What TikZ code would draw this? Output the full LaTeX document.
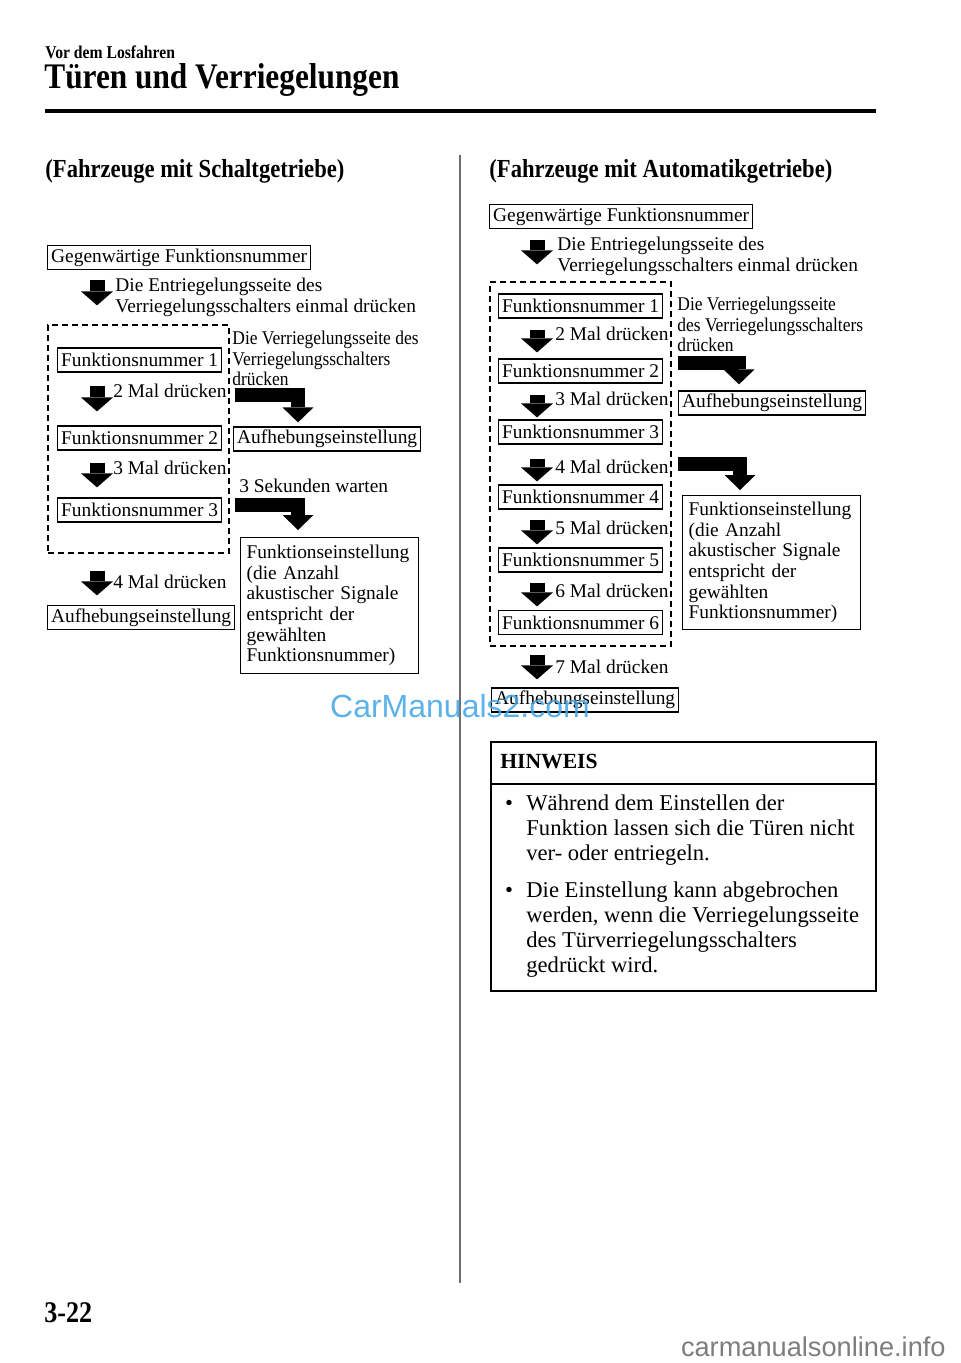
\documentclass[tikz,border=0pt]{standalone}
\usepackage{fontspec}
\setmainfont{Liberation Serif}
\newfontfamily\headfont[FakeStretch=0.87]{Liberation Serif}
\newfontfamily\narrowfont[FakeStretch=0.9]{Liberation Serif}
\newfontfamily\wmfont{Liberation Sans}
\usetikzlibrary{arrows.meta,calc}
\usepackage{xcolor}
\definecolor{wmblue}{RGB}{64,164,228}
\definecolor{wmgrey}{RGB}{125,125,125}
\definecolor{divgrey}{RGB}{110,110,110}
\newcommand{\diagfont}{\fontsize{9.7}{10.3}\selectfont}
\newcommand{\slimfont}{\narrowfont\fontsize{9.7}{10.3}\selectfont}
\newcommand{\notefont}{\fontsize{11.3}{12.5}\selectfont}

\begin{document}
\begin{tikzpicture}[x=0.5pt, y=-0.5pt,
  box/.style={draw, line width=0.6pt, minimum height=12pt, inner xsep=1.8pt, inner ysep=0pt, anchor=west, font=\diagfont},
  lbl/.style={anchor=west, inner sep=0pt, align=left, font=\diagfont},
  slbl/.style={anchor=west, inner sep=0pt, align=left, font=\slimfont},
  frame/.style={draw, dash pattern=on 3pt off 2pt, line width=0.6pt, inner sep=0pt},
  resbox/.style={draw, line width=0.6pt, anchor=north west, align=left, font=\diagfont, text width=83pt, inner xsep=3pt},
  dnarrow/.style={line width=7.5pt, -{Triangle[width=16pt,length=7pt,line width=0pt]}},
  bentarrow/.style={line width=7pt, line join=miter, -{Triangle[width=15.5pt,length=7.5pt,line width=0pt]}},
  head/.style={anchor=west, inner sep=0pt, font=\headfont\bfseries},
]
  \useasboundingbox (0,0) rectangle (960,1363);

  % page head
  \node[head, font=\headfont\bfseries\fontsize{9}{10}\selectfont] (section) at (45,52) {Vor dem Losfahren};
  \node[head, font=\headfont\bfseries\fontsize{18}{20}\selectfont] (title) at (44,80) {Türen und Verriegelungen};
  \draw[line width=2pt] (45,111) -- (876,111);
  \draw[divgrey, line width=0.7pt] (460,155) -- (460,1283);
  \node[head, font=\headfont\bfseries\fontsize{13}{15}\selectfont] (headL) at (45,171) {(Fahrzeuge mit Schaltgetriebe)};
  \node[head, font=\headfont\bfseries\fontsize{13}{15}\selectfont] (headR) at (489,171) {(Fahrzeuge mit Automatikgetriebe)};

  % manual gearbox
  \coordinate (axL) at (97,0);
  \node[box] (gL) at (47,257.5) {Gegenwärtige Funktionsnummer};
  \node[lbl] (openL) at (115,297.5) {Die Entriegelungsseite des\\Verriegelungsschalters einmal drücken};
  \node[frame, minimum width=90.5pt, minimum height=114pt] (frameL) at (138.5,439) {};
  \node[box] (f1L) at (57,360) {Funktionsnummer 1};
  \node[box] (f2L) at (57,438) {Funktionsnummer 2};
  \node[box] (f3L) at (57,510) {Funktionsnummer 3};
  \node[lbl] (p2L) at (113,391) {2 Mal drücken};
  \node[lbl] (p3L) at (113,468) {3 Mal drücken};
  \node[lbl] (p4L) at (113,582) {4 Mal drücken};
  \node[box] (offL) at (47,617.5) {Aufhebungseinstellung};
  \node[slbl] (lockL) at (232,358.5) {Die Verriegelungsseite des\\Verriegelungsschalters\\drücken};
  \node[box] (cancelL) at (233,439) {Aufhebungseinstellung};
  \node[lbl] (waitL) at (239,486) {3 Sekunden warten};
  \node[resbox, minimum height=68pt] (setL) at (240,537) {Funktionseinstellung\\(die Anzahl\\akustischer Signale\\entspricht der\\gewählten\\Funktionsnummer)};

  \draw[dnarrow, shorten <=4.75pt, shorten >=9.5pt] (gL.south -| axL) -- (frameL.north -| axL);
  \draw[dnarrow, shorten <=6.5pt, shorten >=7pt] (f1L.south -| axL) -- (f2L.north -| axL);
  \draw[dnarrow, shorten <=6pt, shorten >=5pt] (f2L.south -| axL) -- (f3L.north -| axL);
  \draw[dnarrow, shorten <=8.5pt, shorten >=4.75pt] (frameL.south -| axL) -- (offL.north -| axL);
  \coordinate (k1) at (298,395);
  \coordinate (k2) at (298,504.5);
  \draw[bentarrow, shorten <=2.5pt, shorten >=2pt] (frameL.east |- k1) -| (cancelL.north -| k1);
  \draw[bentarrow, shorten <=2.5pt, shorten >=3.5pt] (frameL.east |- k2) -| (setL.north -| k2);

  % automatic gearbox
  \coordinate (axR) at (537,0);
  \node[box] (gR) at (489,216.5) {Gegenwärtige Funktionsnummer};
  \node[lbl] (openR) at (557,256.5) {Die Entriegelungsseite des\\Verriegelungsschalters einmal drücken};
  \node[frame, minimum width=90.5pt, minimum height=182pt] (frameR) at (580.5,464) {};
  \node[box] (f1R) at (498,306) {Funktionsnummer 1};
  \node[box] (f2R) at (498,371) {Funktionsnummer 2};
  \node[box] (f3R) at (498,432) {Funktionsnummer 3};
  \node[box] (f4R) at (498,497) {Funktionsnummer 4};
  \node[box] (f5R) at (498,560) {Funktionsnummer 5};
  \node[box] (f6R) at (498,622.5) {Funktionsnummer 6};
  \node[lbl] (p2R) at (555,334) {2 Mal drücken};
  \node[lbl] (p3R) at (555,399) {3 Mal drücken};
  \node[lbl] (p4R) at (555,467) {4 Mal drücken};
  \node[lbl] (p5R) at (555,528) {5 Mal drücken};
  \node[lbl] (p6R) at (555,591) {6 Mal drücken};
  \node[lbl] (p7R) at (555,667) {7 Mal drücken};
  \node[box] (offR) at (491,700) {Aufhebungseinstellung};
  \node[slbl] (lockR) at (677,324.5) {Die Verriegelungsseite\\des Verriegelungsschalters\\drücken};
  \node[box] (cancelR) at (678,403) {Aufhebungseinstellung};
  \node[resbox, minimum height=64.5pt] (setR) at (682,495) {Funktionseinstellung\\(die Anzahl\\akustischer Signale\\entspricht der\\gewählten\\Funktionsnummer)};

  \draw[dnarrow, shorten <=5.25pt, shorten >=8.5pt] (gR.south -| axR) -- (frameR.north -| axR);
  \draw[dnarrow, shorten <=5.5pt, shorten >=3pt] (f1R.south -| axR) -- (f2R.north -| axR);
  \draw[dnarrow, shorten <=5.5pt, shorten >=1pt] (f2R.south -| axR) -- (f3R.north -| axR);
  \draw[dnarrow, shorten <=7pt, shorten >=1.5pt] (f3R.south -| axR) -- (f4R.north -| axR);
  \draw[dnarrow, shorten <=5pt, shorten >=1.5pt] (f4R.south -| axR) -- (f5R.north -| axR);
  \draw[dnarrow, shorten <=5pt, shorten >=1.75pt] (f5R.south -| axR) -- (f6R.north -| axR);
  \draw[dnarrow, shorten <=4pt, shorten >=4pt] (frameR.south -| axR) -- (offR.north -| axR);
  \coordinate (k3) at (739,363);
  \coordinate (k4) at (740,463.5);
  \draw[bentarrow, shorten <=3pt, shorten >=3pt] (frameR.east |- k3) -| (cancelR.north -| k3);
  \draw[bentarrow, shorten <=3pt, shorten >=2.5pt] (frameR.east |- k4) -| (setR.north -| k4);

  % note
  \node[draw, line width=0.8pt, minimum width=192.5pt, minimum height=124.5pt, anchor=north west, inner sep=0pt] (note) at (490,741) {};
  \coordinate (nsep) at (0,784);
  \draw[line width=0.8pt] (note.west |- nsep) -- (note.east |- nsep);
  \node[anchor=west, inner sep=0pt, font=\bfseries\fontsize{10.8}{12}\selectfont] (noteT) at (500,762) {HINWEIS};
  \node[anchor=center, inner sep=0pt, font=\notefont] (dot1) at (509,805) {•};
  \node[anchor=west, inner sep=0pt, align=left, font=\notefont] (item1) at (526,830) {Während dem Einstellen der\\Funktion lassen sich die Türen nicht\\ver- oder entriegeln.};
  \node[anchor=center, inner sep=0pt, font=\notefont] (dot2) at (509,892) {•};
  \node[anchor=west, inner sep=0pt, align=left, font=\notefont] (item2) at (526,929.5) {Die Einstellung kann abgebrochen\\werden, wenn die Verriegelungsseite\\des Türverriegelungsschalters\\gedrückt wird.};

  % foot and marks
  \node[head, font=\headfont\bfseries\fontsize{15}{17}\selectfont] (page) at (44,1313) {3-22};
  \node[inner sep=0pt, font=\wmfont\fontsize{16}{18}\selectfont, text=wmblue, opacity=0.85] (wm) at (460,706) {CarManuals2.com};
  \node[anchor=east, inner sep=0pt, font=\wmfont\fontsize{13.6}{15}\selectfont, text=wmgrey] (site) at (946,1347) {carmanualsonline.info};
\end{tikzpicture}
\end{document}
